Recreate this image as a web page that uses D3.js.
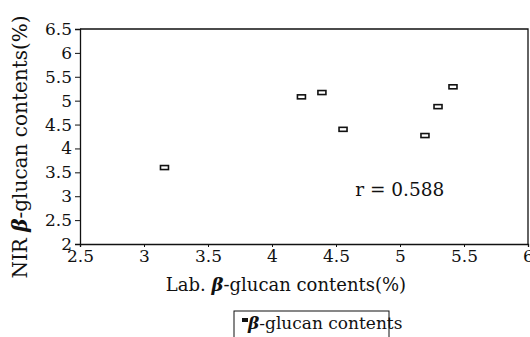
<!DOCTYPE html>
<html>
<head>
<meta charset="utf-8">
<script src="https://cdn.jsdelivr.net/npm/d3@7"></script>
<style>
  body { margin: 0; background: #fff; }
  svg text { font-family: "DejaVu Serif", "Liberation Serif", serif; fill: #111; }
</style>
</head>
<body>
<svg width="530" height="337"></svg>
<script>
// values
const labValues = [3.16, 4.23, 4.39, 4.555, 5.195, 5.297, 5.414];
const nirValues = [3.60, 5.08, 5.17, 4.40, 4.27, 4.875, 5.29];
const xTicks = [2.5, 3, 3.5, 4, 4.5, 5, 5.5, 6];
const yTicks = [2, 2.5, 3, 3.5, 4, 4.5, 5, 5.5, 6, 6.5];
const corrLabel = 'r = 0.588';
const seriesName = 'β-glucan contents';

const svg = d3.select('svg');
const margin = {top: 29, right: 2, bottom: 93, left: 80};
const width = 530 - margin.left - margin.right,
    height = 337 - margin.top - margin.bottom;

const x = d3.scaleLinear().domain([2.5, 6]).range([0, width]);
const y = d3.scaleLinear().domain([2, 6.5]).range([height, 0]);

const g = svg.append('g')
    .attr('transform', 'translate(' + margin.left + ',' + margin.top + ')');

// frame (top and right)
g.append('path')
    .attr('d', 'M0,0H' + width + 'V' + height)
    .attr('fill', 'none')
    .attr('stroke', '#111')
    .attr('stroke-width', 1.3);

const xAxis = g.append('g')
    .attr('transform', 'translate(0,' + height + ')')
    .call(d3.axisBottom(x).tickValues(xTicks).tickFormat(String).tickSize(3).tickPadding(3));

const yAxis = g.append('g')
    .call(d3.axisLeft(y).tickValues(yTicks).tickFormat(String).tickSize(5).tickPadding(3));

[xAxis, yAxis].forEach(a => {
  a.select('.domain').attr('stroke', '#111').attr('stroke-width', 1.3);
  a.selectAll('.tick line').attr('stroke', '#111');
  a.selectAll('.tick text').attr('font-size', 17).attr('fill', '#111')
      .style('font-family', '"DejaVu Serif", serif');
});

// points
g.append('g').selectAll('rect')
  .data(labValues.map((v, i) => [v, nirValues[i]]))
  .enter().append('rect')
    .attr('x', d => x(d[0]) - 4)
    .attr('y', d => y(d[1]) - 2)
    .attr('width', 8)
    .attr('height', 4)
    .attr('fill', '#fff')
    .attr('stroke', '#111')
    .attr('stroke-width', 1.6);

g.append('text')
    .attr('x', x(4.65))
    .attr('y', y(3.0))
    .attr('font-size', 18.5)
    .text(corrLabel);

// axis titles
const xt = svg.append('text')
    .attr('x', 286)
    .attr('y', 291)
    .attr('text-anchor', 'middle')
    .attr('font-size', 18);
xt.append('tspan').text('Lab. ');
xt.append('tspan').attr('font-style', 'italic').attr('font-weight', 'bold').text('β');
xt.append('tspan').text('-glucan contents(%)');

const yt = svg.append('text')
    .attr('transform', 'translate(27,147) rotate(-90)')
    .attr('text-anchor', 'middle')
    .attr('font-size', 20);
yt.append('tspan').text('NIR ');
yt.append('tspan').attr('font-style', 'italic').attr('font-weight', 'bold').text('β');
yt.append('tspan').text('-glucan contents(%)');

// legend
const lg = svg.append('g').attr('transform', 'translate(234,311)');
lg.append('rect')
    .attr('width', 155).attr('height', 30)
    .attr('fill', 'none').attr('stroke', '#111').attr('stroke-width', 1);
lg.append('rect')
    .attr('x', 8).attr('y', 7).attr('width', 6).attr('height', 4)
    .attr('fill', '#111');
const lt = lg.append('text').attr('x', 14).attr('y', 18).attr('font-size', 17);
lt.append('tspan').attr('font-style', 'italic').attr('font-weight', 'bold').text('β');
lt.append('tspan').text(seriesName.slice(1));
</script>
</body>
</html>
